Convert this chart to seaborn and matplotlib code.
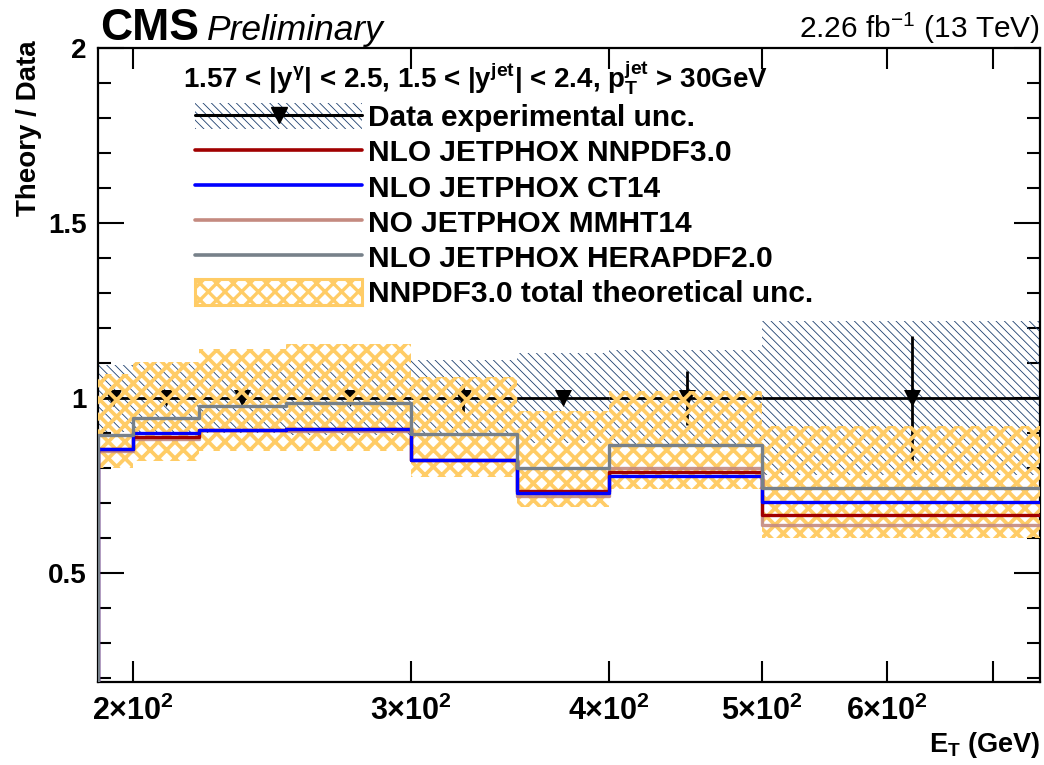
import matplotlib
matplotlib.use("Agg")
import matplotlib.pyplot as plt
from matplotlib.lines import Line2D
from matplotlib.patches import Patch
from matplotlib.ticker import FixedLocator, MultipleLocator
import pandas as pd
import seaborn as sns

# bins in E_T (GeV)
edges = [190, 200, 220, 250, 300, 350, 400, 500, 750]

# theory / data per bin
nnpdf = [0.855, 0.890, 0.909, 0.911, 0.823, 0.734, 0.789, 0.666]
ct14 = [0.855, 0.900, 0.909, 0.913, 0.823, 0.730, 0.777, 0.703]
mmht = [0.850, 0.885, 0.909, 0.908, 0.823, 0.722, 0.800, 0.637]
hera = [0.894, 0.943, 0.977, 0.986, 0.897, 0.800, 0.866, 0.743]

# NNPDF3.0 total theoretical uncertainty band
theo_lo = [0.80, 0.82, 0.85, 0.85, 0.775, 0.69, 0.74, 0.60]
theo_hi = [1.07, 1.105, 1.14, 1.155, 1.06, 0.965, 1.02, 0.92]

# data experimental uncertainty (relative)
exp_unc = [0.095, 0.10, 0.10, 0.105, 0.11, 0.128, 0.137, 0.22]

# data points (ratio to itself) with stat. errors
data_x = [194.3, 209.8, 234.4, 274.2, 323.6, 374.3, 448.2, 622.5]
data_y = [1.0, 1.0, 1.0, 1.0, 1.0, 1.0, 1.0, 1.0]
data_err = [0.02, 0.01, 0.012, 0.012, 0.04, 0.015, 0.077, 0.178]

series = [
    ("NO JETPHOX MMHT14", mmht, "#c48a80", 0.9),
    ("NLO JETPHOX NNPDF3.0", nnpdf, "#a00000", 1.0),
    ("NLO JETPHOX CT14", ct14, "#0000ff", 1.0),
    ("NLO JETPHOX HERAPDF2.0", hera, "#77818a", 1.0),
]

sns.set_theme(style="ticks")
plt.rcParams["font.family"] = ["Liberation Sans", "DejaVu Sans"]
plt.rcParams["mathtext.default"] = "regular"
plt.rcParams["hatch.linewidth"] = 0.6
for key in ["text.color", "axes.labelcolor", "xtick.color", "ytick.color", "axes.edgecolor"]:
    plt.rcParams[key] = "black"

ORANGE = "#ffcc66"
NAVY = "#1d3f6e"
THICK = 2.7

fig = plt.figure(figsize=(10.44, 7.65), dpi=100)
ax = fig.add_axes([0.0939, 0.1085, 0.9023, 0.8287])

# data experimental band
band_lo = [1 - u for u in exp_unc]
band_hi = [1 + u for u in exp_unc]
ax.fill_between(edges, band_lo + [band_lo[-1]], band_hi + [band_hi[-1]], step="post",
                facecolor="none", edgecolor=NAVY, hatch="\\\\\\\\", linewidth=0, zorder=1)

# data points
x_lo = [x - e for x, e in zip(data_x, edges[:-1])]
x_hi = [e - x for x, e in zip(data_x, edges[1:])]
ax.errorbar(data_x, data_y, xerr=[x_lo, x_hi], yerr=data_err, fmt="none",
            ecolor="black", elinewidth=2.0, capsize=0, zorder=2)
sns.scatterplot(x=data_x, y=data_y, marker="v", s=150, color="black",
                edgecolor="black", linewidth=0, ax=ax, zorder=2)

# theory total uncertainty (crosshatch)
with plt.rc_context({"hatch.linewidth": THICK}):
    theo = ax.fill_between(edges, theo_lo + [theo_lo[-1]], theo_hi + [theo_hi[-1]],
                           step="post", facecolor="none", edgecolor=ORANGE,
                           hatch="xx", linewidth=0, zorder=3)
if hasattr(theo, "set_hatch_linewidth"):
    theo.set_hatch_linewidth(THICK)

# theory lines as step histograms
rows = []
for name, vals, color, alpha in series:
    xs = [edges[0]] + edges
    ys = [0.0] + vals + [vals[-1]]
    rows.append(pd.DataFrame({"et": xs, "ratio": ys, "pdf": name}))
theory_df = pd.concat(rows, ignore_index=True)

for i, (name, vals, color, alpha) in enumerate(series):
    sns.lineplot(data=theory_df[theory_df["pdf"] == name], x="et", y="ratio",
                 estimator=None, sort=False, drawstyle="steps-post", color=color,
                 linewidth=2.4, alpha=alpha, ax=ax, zorder=4 + i, legend=False)

ax.set_xscale("log")
ax.set_xlim(190, 750)
ax.set_ylim(0.19, 2.0)

ax.xaxis.set_major_locator(FixedLocator([200, 300, 400, 500, 600, 700]))
ax.xaxis.set_minor_locator(FixedLocator([]))
ax.set_xticklabels([r"2$\times$10$^{2}$", r"3$\times$10$^{2}$", r"4$\times$10$^{2}$",
                    r"5$\times$10$^{2}$", r"6$\times$10$^{2}$", ""])
ax.yaxis.set_major_locator(FixedLocator([0.5, 1.0, 1.5, 2.0]))
ax.yaxis.set_major_formatter(matplotlib.ticker.FuncFormatter(lambda v, p: f"{v:g}"))
ax.yaxis.set_minor_locator(MultipleLocator(0.1))

ax.tick_params(axis="both", which="both", direction="in", top=True, right=True,
               width=1.5, colors="black")
ax.tick_params(axis="x", which="major", length=15, pad=10, labelsize=22)
ax.tick_params(axis="y", which="major", length=19, pad=8, labelsize=20)
ax.tick_params(axis="y", which="minor", length=9.5)
for lab in ax.get_xticklabels() + ax.get_yticklabels():
    lab.set_fontweight("bold")
for sp in ax.spines.values():
    sp.set_linewidth(1.6)

ax.set_ylabel("Theory / Data", fontsize=20, fontweight="bold", loc="top")
ax.yaxis.set_label_coords(-0.060, 1.012)
ax.set_xlabel("E$_{T}$ (GeV)", fontsize=19.5, fontweight="bold", loc="right")
ax.xaxis.set_label_coords(1.0, -0.076)

fig.text(0.0958, 0.948, "CMS", fontsize=32, fontweight="bold", va="baseline")
fig.text(0.198, 0.948, "Preliminary", fontsize=25.5, style="italic", va="baseline")
fig.text(0.996, 0.950, "2.26 fb$^{-1}$ (13 TeV)", fontsize=21.5, ha="right", va="baseline")

ax.text(0.090, 0.938, "1.57 < |y$^{γ}$| < 2.5, 1.5 < |y$^{jet}$| < 2.4, p$_{T}^{jet}$ > 30GeV",
        transform=ax.transAxes, fontsize=20, fontweight="bold", va="baseline")

handles = [
    (Patch(facecolor="none", edgecolor=NAVY, hatch="\\\\\\\\", linewidth=0),
     Line2D([], [], color="black", linewidth=2.2, marker="v", markersize=12)),
    Line2D([], [], color="#a00000", linewidth=2.6),
    Line2D([], [], color="#0000ff", linewidth=2.6),
    Line2D([], [], color="#c48a80", linewidth=2.6),
    Line2D([], [], color="#77818a", linewidth=2.6),
    Patch(facecolor="none", edgecolor=ORANGE, hatch="xx", linewidth=2.2),
]
labels = ["Data experimental unc.", "NLO JETPHOX NNPDF3.0", "NLO JETPHOX CT14",
          "NO JETPHOX MMHT14", "NLO JETPHOX HERAPDF2.0", "NNPDF3.0 total theoretical unc."]
leg = ax.legend(handles, labels, loc="upper left", bbox_to_anchor=(0.103, 0.913),
                frameon=False, borderaxespad=0, borderpad=0, handlelength=5.6,
                handleheight=0.95, handletextpad=0.2, labelspacing=0.2,
                prop={"size": 21.5, "weight": "bold"})
theo_handle = leg.legend_handles[-1]
if hasattr(theo_handle, "set_hatch_linewidth"):
    theo_handle.set_hatch_linewidth(2.4)

fig.savefig("out.png", dpi=100)
